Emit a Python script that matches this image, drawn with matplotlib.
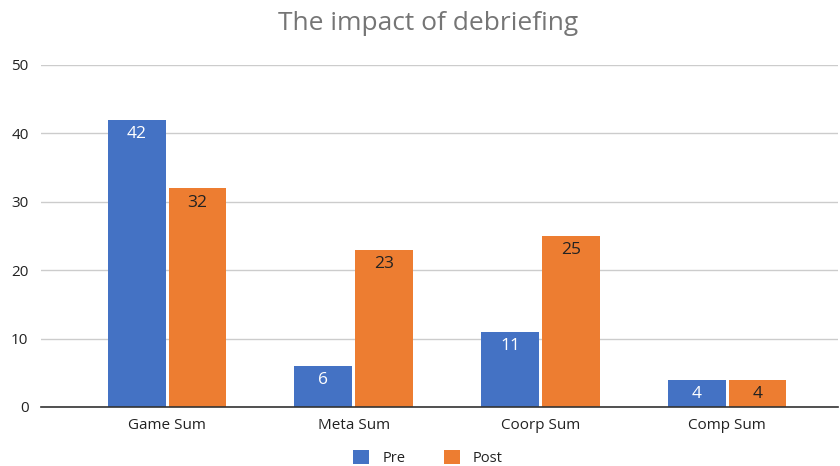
import matplotlib
matplotlib.use("Agg")
import matplotlib.pyplot as plt
import numpy as np

categories = ["Game Sum", "Meta Sum", "Coorp Sum", "Comp Sum"]
pre = [42, 6, 11, 4]
post = [32, 23, 25, 4]
yticks = [0, 10, 20, 30, 40, 50]

plt.rcParams['font.family'] = ['Open Sans', 'DejaVu Sans']

fig = plt.figure(figsize=(8.4, 4.66), dpi=100)
ax = fig.add_axes([41/840, 1-407/466, (838-41)/840, (407-65)/466])

x = np.arange(len(categories))
w = 0.31
off = 0.163
b1 = ax.bar(x - off, pre, w, color="#4472C4", label="Pre", zorder=3)
b2 = ax.bar(x + off, post, w, color="#ED7D31", label="Post", zorder=3)

for rect, v in zip(b1, pre):
    ax.text(rect.get_x() + rect.get_width()/2, v - 0.95, str(v), ha="center", va="top",
            color="white", fontsize=12.5, zorder=4)
for rect, v in zip(b2, post):
    ax.text(rect.get_x() + rect.get_width()/2, v - 0.95, str(v), ha="center", va="top",
            color="#222222", fontsize=12.5, zorder=4)

ax.set_xlim(-0.675, 3.594)
ax.set_ylim(0, 50)
ax.set_yticks(yticks)
ax.set_xticks(x)
ax.set_xticklabels(categories)
ax.grid(axis="y", color="#CCCCCC", linewidth=1, zorder=0)
for s in ["top", "right", "left"]:
    ax.spines[s].set_visible(False)
ax.spines["bottom"].set_color("#333333")
ax.spines["bottom"].set_linewidth(1.2)
ax.spines["bottom"].set_zorder(5)
ax.tick_params(axis="both", length=0, labelsize=11, colors="#222222")
ax.tick_params(axis="y", pad=9)
ax.tick_params(axis="x", pad=8)

fig.text(428/840, 1-23/466, "The impact of debriefing", ha="center", va="center",
         fontsize=19, color="#757575")

leg = fig.legend(handles=[b1, b2], labels=["Pre", "Post"], loc="center",
                 bbox_to_anchor=(428/840, 1-458/466), ncol=2, frameon=False,
                 fontsize=10.5, handlelength=1.1, handleheight=1.1, columnspacing=2.6,
                 handletextpad=0.9)
for t in leg.get_texts():
    t.set_color("#222222")

fig.savefig("out.png", dpi=100)
